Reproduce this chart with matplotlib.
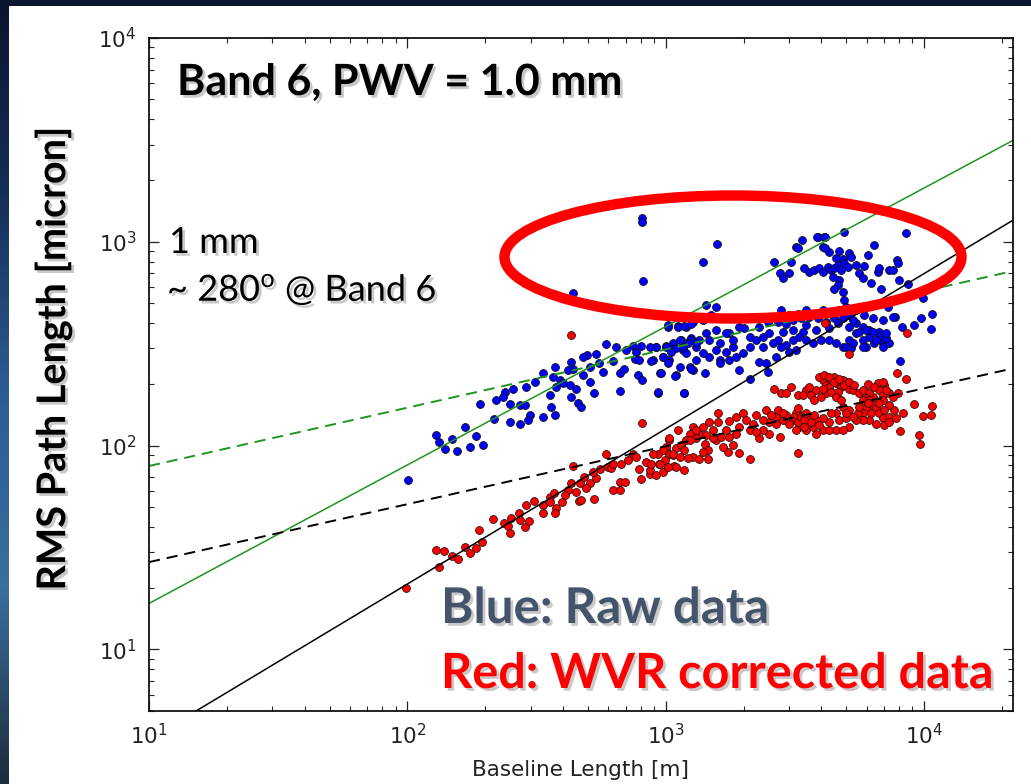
import numpy as np
import matplotlib
matplotlib.use("Agg")
import matplotlib.pyplot as plt
import matplotlib.patheffects as pe
from matplotlib.patches import Ellipse, Rectangle
from matplotlib.colors import LinearSegmentedColormap

# ---------------- data (log10 values) ----------------
blue_log_baseline = [
    3.197, 3.143, 3.691, 3.588, 3.614, 3.527, 3.929, 3.807, 3.781, 3.504, 3.607, 3.633, 3.669, 3.710,
    3.717, 3.684, 3.659, 3.420, 3.485, 3.440, 3.452, 3.478, 3.536, 3.556, 3.575, 3.594, 3.607, 3.626,
    3.639, 3.652, 3.665, 3.678, 3.691, 3.704, 3.736, 3.749, 3.768, 3.762, 3.794, 3.820, 3.826, 3.865,
    3.878, 3.893, 3.897, 3.903, 3.936, 3.833, 3.672, 3.665, 3.652, 3.684, 3.691, 3.646, 3.994, 4.032,
    4.026, 3.987, 3.961, 3.914, 3.906, 3.871, 3.888, 3.858,
    3.156, 3.195, 3.175, 3.143, 3.105, 3.079, 3.047, 3.008, 2.963, 2.999, 3.027, 3.059, 3.098, 3.130,
    3.169, 3.208, 3.246, 3.285, 3.304, 3.324, 3.362, 3.394, 3.433, 3.465, 3.491, 3.523, 3.556, 3.588,
    3.620, 3.652, 3.684, 3.710, 3.736, 3.768, 3.800, 3.839, 3.878, 3.826, 3.787, 3.762, 3.736, 3.710,
    3.684, 3.659, 3.633, 3.601, 3.568, 3.543, 3.517, 3.491, 3.465, 3.446, 3.433, 3.401, 3.375, 3.349,
    3.324, 3.298, 3.272, 3.246, 3.208, 3.169, 3.143, 3.117, 3.092, 3.053, 3.014, 2.989, 2.950, 2.976,
    3.040, 3.105, 3.150, 3.208, 3.285, 3.324, 3.362, 3.388, 3.427, 3.478, 3.504, 3.697, 3.717, 3.775,
    3.807, 3.839, 3.865, 3.072, 2.969, 3.394, 3.833, 3.839,
    3.543, 3.581, 3.633, 3.665, 3.710, 3.736, 3.762, 3.787, 3.826, 3.852, 3.014, 3.066, 3.195, 3.233,
    3.259, 3.510, 3.587, 3.617, 3.615,
    3.446, 3.478, 3.510, 3.543, 3.575, 3.607, 3.639, 3.672, 3.697, 3.723, 3.749, 3.775, 3.800, 3.813,
    3.852, 3.762, 3.723, 3.530, 3.491, 3.452, 3.414, 3.375, 3.259, 3.233, 3.195, 3.156, 3.117, 3.079,
    3.040, 3.092,
    2.908, 2.908, 2.911, 2.640, 3.008, 3.046, 3.072, 3.098, 2.769, 2.808, 2.872, 2.905, 2.695, 2.731,
    2.885, 2.963, 3.001, 3.021, 3.053, 3.085, 2.524, 2.570, 2.563, 2.589, 2.634, 2.640, 2.621, 2.679,
    2.743, 2.756, 2.795, 2.821, 2.840, 2.879, 2.898, 2.892, 2.908, 2.943, 2.982, 3.008, 3.037, 3.098,
    2.492, 2.550, 2.602, 2.628, 2.653, 2.705, 2.724, 2.634, 2.660, 2.673, 2.821, 2.969, 3.072, 2.376,
    2.408, 2.460, 2.370, 2.396, 2.434, 2.454, 2.473, 2.466, 2.434, 2.396, 2.280, 2.335, 2.524, 2.557,
    2.570, 2.109, 2.122, 2.174, 2.222, 2.264, 2.292, 2.243, 2.193, 2.144, 2.003,
    2.576, 2.679, 2.705, 2.847, 2.937, 2.988, 3.066, 3.117, 2.344,
]
blue_log_rms = [
    2.989, 2.902, 3.050, 3.025, 3.025, 3.009, 3.045, 2.984, 2.935, 2.976, 2.973, 2.951, 2.956, 2.943,
    2.927, 2.914, 2.919, 2.902, 2.902, 2.848, 2.820, 2.848, 2.869, 2.853, 2.861, 2.869, 2.853, 2.878,
    2.861, 2.869, 2.886, 2.861, 2.894, 2.878, 2.886, 2.848, 2.881, 2.820, 2.796, 2.853, 2.869, 2.861,
    2.861, 2.910, 2.894, 2.812, 2.793, 2.766, 2.812, 2.788, 2.766, 2.755, 2.714, 2.829, 2.725, 2.645,
    2.570, 2.624, 2.591, 2.583, 2.416, 2.714, 2.632, 2.681,
    2.689, 2.678, 2.640, 2.616, 2.608, 2.583, 2.586, 2.583, 2.485, 2.488, 2.501, 2.518, 2.526, 2.518,
    2.518, 2.501, 2.550, 2.583, 2.575, 2.534, 2.583, 2.608, 2.608, 2.596, 2.616, 2.624, 2.632, 2.624,
    2.608, 2.624, 2.624, 2.640, 2.665, 2.640, 2.624, 2.616, 2.632, 2.559, 2.534, 2.518, 2.550, 2.518,
    2.485, 2.501, 2.518, 2.518, 2.501, 2.518, 2.534, 2.518, 2.493, 2.485, 2.518, 2.550, 2.534, 2.518,
    2.485, 2.452, 2.436, 2.419, 2.419, 2.436, 2.452, 2.419, 2.387, 2.387, 2.419, 2.436, 2.419, 2.354,
    2.346, 2.370, 2.354, 2.403, 2.370, 2.329, 2.411, 2.403, 2.436, 2.460, 2.469, 2.485, 2.477, 2.485,
    2.501, 2.501, 2.501, 2.256, 2.259, 2.362, 2.518, 2.485,
    2.591, 2.567, 2.575, 2.600, 2.583, 2.600, 2.583, 2.567, 2.534, 2.526, 2.485, 2.469, 2.469, 2.460,
    2.485, 2.968, 3.022, 3.022, 2.968,
    2.665, 2.640, 2.648, 2.665, 2.648, 2.665, 2.648, 2.665, 2.681, 2.616, 2.559, 2.567, 2.559, 2.518,
    2.550, 2.485, 2.501, 2.559, 2.567, 2.559, 2.501, 2.485, 2.518, 2.550, 2.567, 2.550, 2.485, 2.452,
    2.477, 2.518,
    3.115, 3.099, 2.807, 2.750, 2.591, 2.583, 2.586, 2.599, 2.498, 2.482, 2.490, 2.490, 2.444, 2.449,
    2.460, 2.485, 2.485, 2.460, 2.518, 2.501, 2.357, 2.387, 2.338, 2.321, 2.411, 2.378, 2.370, 2.346,
    2.403, 2.362, 2.416, 2.354, 2.378, 2.423, 2.419, 2.346, 2.321, 2.415, 2.354, 2.403, 2.342, 2.378,
    2.313, 2.248, 2.305, 2.297, 2.280, 2.313, 2.256, 2.239, 2.207, 2.190, 2.269, 2.261, 2.256, 2.264,
    2.280, 2.289, 2.236, 2.203, 2.198, 2.198, 2.149, 2.125, 2.108, 2.117, 2.203, 2.128, 2.141, 2.187,
    2.149, 2.054, 2.018, 2.032, 2.092, 2.046, 2.005, 1.991, 1.974, 1.981, 1.830,
    2.289, 2.436, 2.387, 2.469, 2.485, 2.436, 2.485, 2.501, 2.223,
]

red_log_baseline = [
    1.996, 2.109, 2.142, 2.174, 2.196, 2.122, 2.222, 2.241, 2.264, 2.290, 2.277, 2.331, 2.372, 2.389,
    2.396, 2.402, 2.432, 2.434, 2.456, 2.469, 2.460, 2.490, 2.524, 2.524, 2.550, 2.553, 2.566, 2.576,
    2.573, 2.599, 2.621, 2.634, 2.653, 2.664, 2.673, 2.666, 2.682, 2.705, 2.724, 2.731, 2.746, 2.767,
    2.776, 2.795, 2.821, 2.821, 2.844, 2.789, 2.827, 2.872, 2.885, 2.896, 2.905, 2.939, 2.973, 2.988,
    3.001, 3.014, 3.033, 2.640, 2.969, 3.014, 3.040, 2.634, 2.908,
    2.608, 2.692, 2.718, 2.795, 2.853, 2.924, 2.950, 2.995, 3.027,
    3.933, 3.708, 3.617,
    3.420, 3.446, 3.485, 3.510, 3.543, 3.562, 3.581, 3.607, 3.620, 3.639, 3.659, 3.678, 3.697, 3.710,
    3.723, 3.749, 3.781, 3.820, 3.846, 3.826, 3.865, 3.893, 3.929, 3.897, 3.575, 3.620, 3.633, 3.652,
    3.684, 3.665, 3.607, 3.839, 3.800,
    3.594, 3.614, 3.633, 3.652, 3.672, 3.691, 3.710, 3.730, 3.639, 3.659, 3.601, 3.556, 3.530, 3.465,
    3.762, 3.787, 3.807, 3.839, 3.852, 3.878, 3.775,
    3.762, 3.787, 3.800, 3.813, 3.826, 3.839, 3.865, 3.884, 3.865, 3.839, 3.775, 3.762, 3.787, 3.813,
    3.846, 3.916, 3.961, 3.994, 4.026, 4.030, 3.906, 3.981, 3.983, 3.742, 3.710, 3.684, 3.659, 3.672,
    3.697, 3.710, 3.659, 3.633, 3.607, 3.581, 3.556, 3.530, 3.504, 3.491, 3.517, 3.543, 3.568, 3.607,
    3.581, 3.549, 3.523, 3.478, 3.452, 3.427, 3.401, 3.375, 3.349, 3.388, 3.433, 3.465, 3.510, 3.440,
    3.401, 3.375, 3.362, 3.324, 3.311, 3.285, 3.272, 3.246, 3.259, 3.285, 3.324, 3.240, 3.220, 3.195,
    3.182, 3.201, 3.246, 3.272, 3.298, 3.201, 3.169, 3.143, 3.130, 3.117, 3.105, 3.092, 3.079, 3.059,
    3.047, 3.072, 3.105, 3.130, 3.163, 3.014, 3.001, 2.989, 2.976, 2.963, 3.008, 3.040, 3.072, 3.150,
    3.163, 3.143, 3.510, 2.937, 2.943,
    3.498, 3.510, 3.523, 3.536, 3.543, 3.562, 3.575, 3.594, 3.536, 3.504, 3.427, 3.452, 3.407, 3.337,
    3.349, 3.233, 3.214, 3.182, 3.156, 3.117, 3.092, 3.027, 3.053, 3.085, 3.762, 3.781, 3.826, 3.846,
    3.794, 3.865, 3.891, 3.736, 3.749, 3.697, 3.678, 3.639, 3.633, 3.684, 3.723,
]
red_log_rms = [
    1.299, 1.490, 1.482, 1.459, 1.441, 1.405, 1.500, 1.474, 1.495, 1.528, 1.585, 1.642, 1.621, 1.605,
    1.569, 1.647, 1.667, 1.634, 1.601, 1.631, 1.708, 1.729, 1.708, 1.670, 1.749, 1.724, 1.765, 1.695,
    1.667, 1.724, 1.781, 1.814, 1.773, 1.727, 1.732, 1.814, 1.847, 1.814, 1.740, 1.839, 1.883, 1.958,
    1.896, 1.781, 1.781, 1.822, 1.822, 1.888, 1.909, 1.961, 1.942, 1.883, 1.834, 1.860, 1.912, 1.871,
    1.978, 2.027, 1.899, 1.899, 1.961, 1.961, 1.986, 2.545, 2.112,
    1.757, 1.790, 1.871, 1.912, 1.929, 1.921, 1.961, 1.929, 1.953,
    2.550, 2.449, 2.603,
    2.280, 2.259, 2.289, 2.248, 2.272, 2.248, 2.272, 2.321, 2.297, 2.321, 2.308, 2.289, 2.313, 2.280,
    2.272, 2.256, 2.300, 2.308, 2.297, 2.272, 2.256, 2.354, 2.329, 2.256, 2.223, 2.256, 2.289, 2.338,
    2.321, 2.264, 2.280, 2.248, 2.239,
    2.338, 2.346, 2.338, 2.313, 2.329, 2.297, 2.313, 2.297, 2.264, 2.239, 2.239, 2.289, 2.248, 2.256,
    2.272, 2.256, 2.289, 2.313, 2.272, 2.239, 2.231,
    2.223, 2.223, 2.198, 2.182, 2.158, 2.133, 2.141, 2.174, 2.198, 2.223, 2.182, 2.158, 2.125, 2.108,
    2.100, 2.158, 2.203, 2.144, 2.149, 2.194, 2.072, 2.051, 2.010, 2.158, 2.174, 2.187, 2.158, 2.125,
    2.133, 2.092, 2.076, 2.117, 2.133, 2.125, 2.141, 2.149, 2.158, 2.125, 2.092, 2.076, 2.092, 2.076,
    2.059, 2.108, 2.117, 2.108, 2.125, 2.141, 2.117, 2.125, 2.149, 2.174, 2.174, 2.149, 2.182, 2.043,
    2.059, 2.076, 2.035, 2.076, 2.125, 2.092, 2.059, 2.043, 2.002, 1.964, 1.932, 1.969, 1.994, 2.027,
    2.076, 2.117, 2.122, 2.141, 2.158, 2.158, 2.117, 2.092, 2.059, 2.035, 2.092, 2.059, 2.027, 2.002,
    2.076, 1.977, 1.945, 1.932, 1.932, 2.035, 1.994, 1.977, 1.912, 1.855, 1.896, 1.896, 1.879, 2.010,
    1.977, 1.969, 1.964, 1.879, 1.912,
    2.141, 2.117, 2.141, 2.125, 2.158, 2.117, 2.149, 2.100, 2.092, 2.076, 2.108, 2.158, 2.149, 2.108,
    2.067, 2.076, 2.043, 2.035, 2.051, 2.076, 2.027, 1.961, 1.945, 1.937, 2.125, 2.207, 2.207, 2.174,
    2.158, 2.117, 2.133, 2.125, 2.190, 2.158, 2.223, 2.158, 2.076, 2.076, 2.141,
]

# fitted power-law lines: end points (baseline [m], rms [micron])
line_x = [10, 2.2e4]
green_solid_y = [16.8, 3140]
black_solid_y = [3.62, 1274]
green_dashed_y = [79.4, 718]
black_dashed_y = [26.8, 239]

x_limits = (10, 2.2e4)
y_limits = (5, 1e4)

# ---------------- figure ----------------
W, H = 1031, 784
plt.rcParams['lines.scale_dashes'] = False
fig = plt.figure(figsize=(W / 100, H / 100), dpi=100, facecolor='#0c1631')

def fx(px):
    return px / W

def fy(py):
    return 1 - py / H

# left strip gradient (slide background) and white panel
gax = fig.add_axes([0, 0, fx(9), 1], zorder=-5)
grad = np.linspace(0, 1, 256).reshape(-1, 1)
cmap = LinearSegmentedColormap.from_list('bg', ['#0b1430', '#163058', '#2c5d92', '#3a6f9e', '#1d2c3c'])
gax.imshow(grad, aspect='auto', cmap=cmap, extent=[0, 1, 1, 0])
gax.set_axis_off()
fig.patches.append(Rectangle((fx(9), 0), 1 - fx(9), fy(6), transform=fig.transFigure,
                             facecolor='white', edgecolor='none', zorder=-4))

ax = fig.add_axes([fx(149), fy(710.7), fx(1012.7) - fx(149), (710.7 - 38) / H], zorder=1)
ax.set_facecolor('white')
ax.set_xscale('log')
ax.set_yscale('log')

ax.scatter(10 ** np.array(blue_log_baseline), 10 ** np.array(blue_log_rms), s=32,
           c='#0000ff', edgecolors='#111111', linewidths=0.6, zorder=1)
ax.scatter(10 ** np.array(red_log_baseline), 10 ** np.array(red_log_rms), s=32,
           c='#ff0000', edgecolors='#2a1010', linewidths=0.6, zorder=1)

green = '#1f951f'
ax.plot(line_x, green_solid_y, color=green, lw=1.1, zorder=2)
ax.plot(line_x, black_solid_y, color='black', lw=1.1, zorder=2)
ax.plot(line_x, green_dashed_y, color=green, lw=1.4, dashes=(8, 5), zorder=2)
ax.plot(line_x, black_dashed_y, color='black', lw=1.4, dashes=(8, 5), zorder=2)

ax.set_xlim(*x_limits)
ax.set_ylim(*y_limits)
for s in ax.spines.values():
    s.set_linewidth(1.3)
    s.set_color('#111111')
ax.tick_params(which='both', direction='in', top=True, right=True, colors='#222222')
ax.tick_params(which='major', length=7, width=0.9, labelsize=15.5, pad=9)
ax.tick_params(which='minor', length=3.5, width=0.8)

ax.set_xlabel('Baseline Length [m]', fontsize=15.5, color='#222222', labelpad=8)

shadow = [pe.withSimplePatchShadow(offset=(2, -2), shadow_rgbFace='#888888', alpha=0.45)]
slide_font = ['Lato', 'DejaVu Sans']

fig.text(fx(53), fy(358), 'RMS Path Length [micron]', rotation=90, ha='center', va='center',
         fontsize=28.5, fontweight='bold', family=slide_font, color='black', path_effects=shadow,
         zorder=5)

fig.text(fx(177), fy(95), 'Band 6, PWV = 1.0 mm', ha='left', va='baseline', fontsize=31,
         fontweight='bold', family=slide_font, color='black', path_effects=shadow, zorder=5)
fig.text(fx(169), fy(253), '1 mm', ha='left', va='baseline', fontsize=26,
         family=slide_font, color='black', path_effects=shadow, zorder=5)
fig.text(fx(167), fy(301), r'~ 280$^{\mathregular{o}}$ @ Band 6', ha='left', va='baseline', fontsize=26,
         family=slide_font, color='black', path_effects=shadow, zorder=5)
fig.text(fx(441), fy(623), 'Blue: Raw data', ha='left', va='baseline', fontsize=35.5,
         fontweight='bold', family=slide_font, color='#44546a', path_effects=shadow, zorder=5)
fig.text(fx(441), fy(688), 'Red: WVR corrected data', ha='left', va='baseline', fontsize=35,
         fontweight='bold', family=slide_font, color='#ff0000', path_effects=shadow, zorder=5)

fig.add_artist(Ellipse((fx(733), fy(257)), fx(457), 123 / H, transform=fig.transFigure,
                       facecolor='none', edgecolor='#ff0000', linewidth=7.5, zorder=10))

fig.savefig('out.png', dpi=100, facecolor=fig.get_facecolor())
